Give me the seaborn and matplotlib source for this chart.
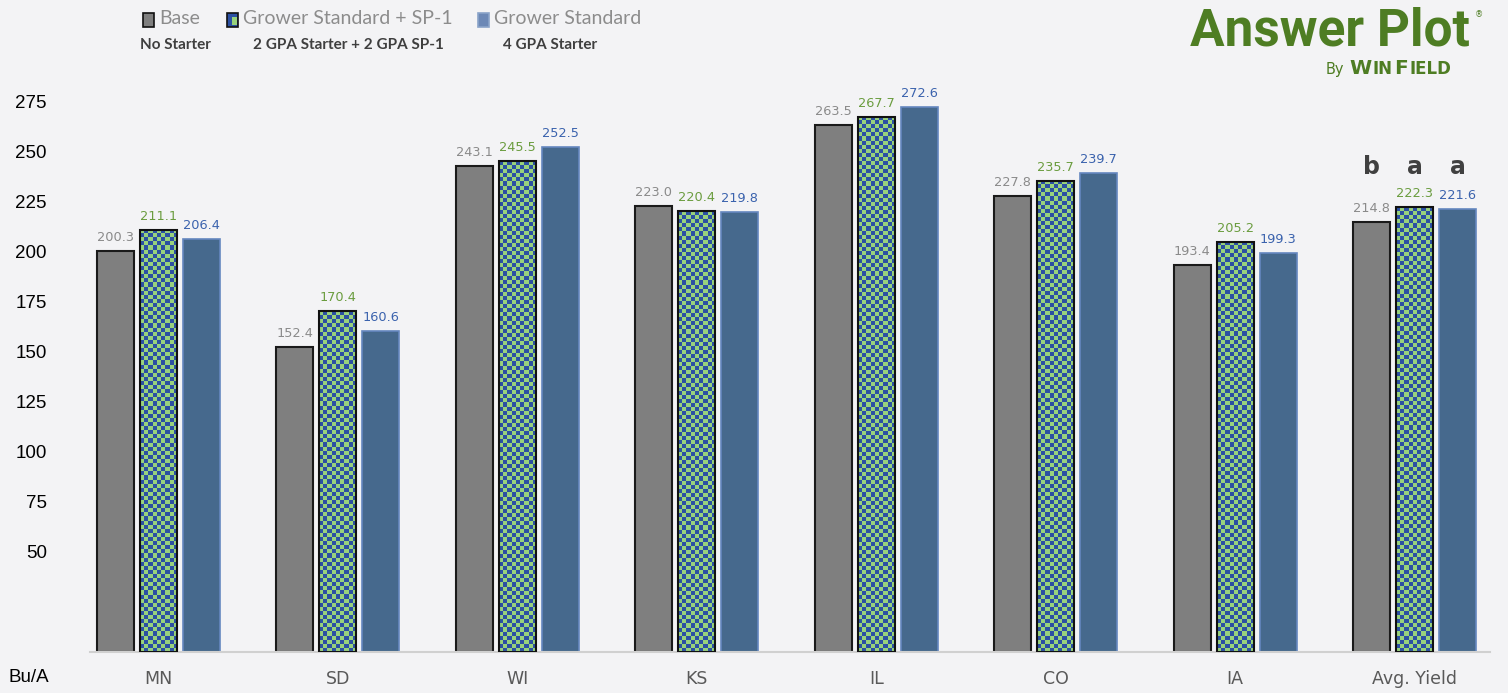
import matplotlib
matplotlib.use("Agg")
import matplotlib.pyplot as plt
from matplotlib.colors import ListedColormap
from matplotlib.patches import Rectangle
import numpy as np
import pandas as pd
import seaborn as sns

# yields (Bu/A)
sites = ["MN", "SD", "WI", "KS", "IL", "CO", "IA", "Avg. Yield"]
base = [200.3, 152.4, 243.1, 223.0, 263.5, 227.8, 193.4, 214.8]
sp1 = [211.1, 170.4, 245.5, 220.4, 267.7, 235.7, 205.2, 222.3]
grower = [206.4, 160.6, 252.5, 219.8, 272.6, 239.7, 199.3, 221.6]
treatments = ["Base", "Grower Standard + SP-1", "Grower Standard"]
subtitles = ["No Starter", "2 GPA Starter + 2 GPA SP-1", "4 GPA Starter"]
avg_letters = ["b", "a", "a"]
yticks = [50, 75, 100, 125, 150, 175, 200, 225, 250, 275]

bg = "#f3f3f5"
gray = "#7f7f7f"
check_green = "#98d27c"
check_blue = "#2b50a3"
steel = "#46698d"
label_colors = ["#8a8a8a", "#6a9c3e", "#3a62ad"]
logo_green = "#4e7d23"

df = pd.DataFrame({
    "Site": sites * 3,
    "Treatment": np.repeat(treatments, len(sites)),
    "Yield": base + sp1 + grower,
})

sns.set_style("white")
plt.rcParams["font.family"] = ["DejaVu Sans"]

W, H = 1508, 693
fig = plt.figure(figsize=(W / 100, H / 100), dpi=100, facecolor=bg)
ax = fig.add_axes([90 / W, 41 / H, 1400 / W, 590 / H])
ax.set_facecolor(bg)

pal = {"Base": gray, "Grower Standard + SP-1": check_green, "Grower Standard": steel}
sns.barplot(data=df, x="Site", y="Yield", hue="Treatment", order=sites,
            hue_order=treatments, palette=pal, width=0.72, gap=0.14,
            saturation=1, errorbar=None, legend=False, ax=ax)

gray_c, chk_c, blue_c = ax.containers

for b in gray_c:
    b.set_edgecolor("#1a1a1a")
    b.set_linewidth(1.5)

for b in blue_c:
    b.set_edgecolor("#6587bf")
    b.set_linewidth(1.2)

# checkerboard fill for the SP-1 bars
chk_cmap = ListedColormap([check_green, check_blue])
for b in chk_c:
    x0, w, h = b.get_x(), b.get_width(), b.get_height()
    nx = 9
    ny = max(1, int(round(h / 2.05)))
    img = np.add.outer(np.arange(ny), np.arange(nx)) % 2
    im = ax.imshow(img, cmap=chk_cmap, extent=(x0, x0 + w, 0, h), aspect="auto",
                   interpolation="nearest", origin="lower", zorder=2)
    im.set_clip_path(b)
    b.set_facecolor("none")
    b.set_edgecolor("#111111")
    b.set_linewidth(1.5)
    b.set_zorder(3)

ax.set_xlim(-0.38, 7.42)
ax.set_ylim(0, 295)

for cont, vals, col in zip(ax.containers, [base, sp1, grower], label_colors):
    ax.bar_label(cont, labels=[f"{v:.1f}" for v in vals], padding=5,
                 color=col, fontsize=9.3)

# significance letters over the average
avg_vals = [base[-1], sp1[-1], grower[-1]]
for cont, letter in zip(ax.containers, avg_letters):
    b = cont[-1]
    ax.text(b.get_x() + b.get_width() / 2, max(avg_vals) + 20, letter,
            ha="center", va="center", fontsize=17, fontweight="bold", color="#404040")

for s in ["top", "right", "left"]:
    ax.spines[s].set_visible(False)
ax.spines["bottom"].set_color("#d0d0d0")
ax.spines["bottom"].set_linewidth(1.5)

ax.set_yticks(yticks)
ax.tick_params(axis="y", length=0, pad=31, labelsize=13.5, labelcolor="black")
for t in ax.get_yticklabels():
    t.set_family("Liberation Sans")
ax.tick_params(axis="x", length=0, pad=13, labelsize=12.5, labelcolor="#595959")
ax.set_xlabel("")
ax.set_ylabel("")
ax.grid(False)

fig.text(8 / W, 1 - 677 / H, "Bu/A", ha="left", va="center", fontsize=13.5,
         family="Liberation Sans", color="black")

# legend across the top
sq_x = [143, 227, 478]
txt_x = [159, 243, 494]
sub_x = [140, 253, 503]
sq_faces = [gray, check_blue, "#6c88b6"]
sq_edges = ["#111111", "#111111", "#8aa3c9"]
for i, name in enumerate(treatments):
    fig.add_artist(Rectangle((sq_x[i] / W, 1 - 27 / H), 11 / W, 14 / H,
                             transform=fig.transFigure, facecolor=sq_faces[i],
                             edgecolor=sq_edges[i], linewidth=1.2))
    if i == 1:
        fig.add_artist(Rectangle(((sq_x[i] + 5) / W, 1 - 25 / H), 5 / W, 8 / H,
                                 transform=fig.transFigure, facecolor=check_green,
                                 edgecolor="none"))
    fig.text(txt_x[i] / W, 1 - 18 / H, name, ha="left", va="center", fontsize=14,
             family="Lato", color="#8c8c8c")
    fig.text(sub_x[i] / W, 1 - 45 / H, subtitles[i], ha="left", va="center",
             fontsize=11, family="Lato", fontweight="bold", color="#3f3f3f")

# logo
fig.text(1470 / W, 1 - 45 / H, "Answer Plot", ha="right", va="baseline",
         fontsize=37, family="Roboto", fontweight="bold", color=logo_green)
fig.text(1475 / W, 1 - 15 / H, "®", ha="left", va="center", fontsize=6,
         color=logo_green)
renderer = fig.canvas.get_renderer()
x = 1349
fig.text(1344 / W, 1 - 74 / H, "By", ha="right", va="baseline", fontsize=10.5,
         family="DejaVu Sans", color=logo_green)
for part, size in [("W", 14.5), ("IN", 12), ("F", 14.5), ("IELD", 12)]:
    t = fig.text(x / W, 1 - 74 / H, part, ha="left", va="baseline", fontsize=size,
                 family="DejaVu Sans", fontweight="bold", color=logo_green)
    x += t.get_window_extent(renderer).width + 1.5

fig.savefig("out.png", dpi=100, facecolor=bg)
